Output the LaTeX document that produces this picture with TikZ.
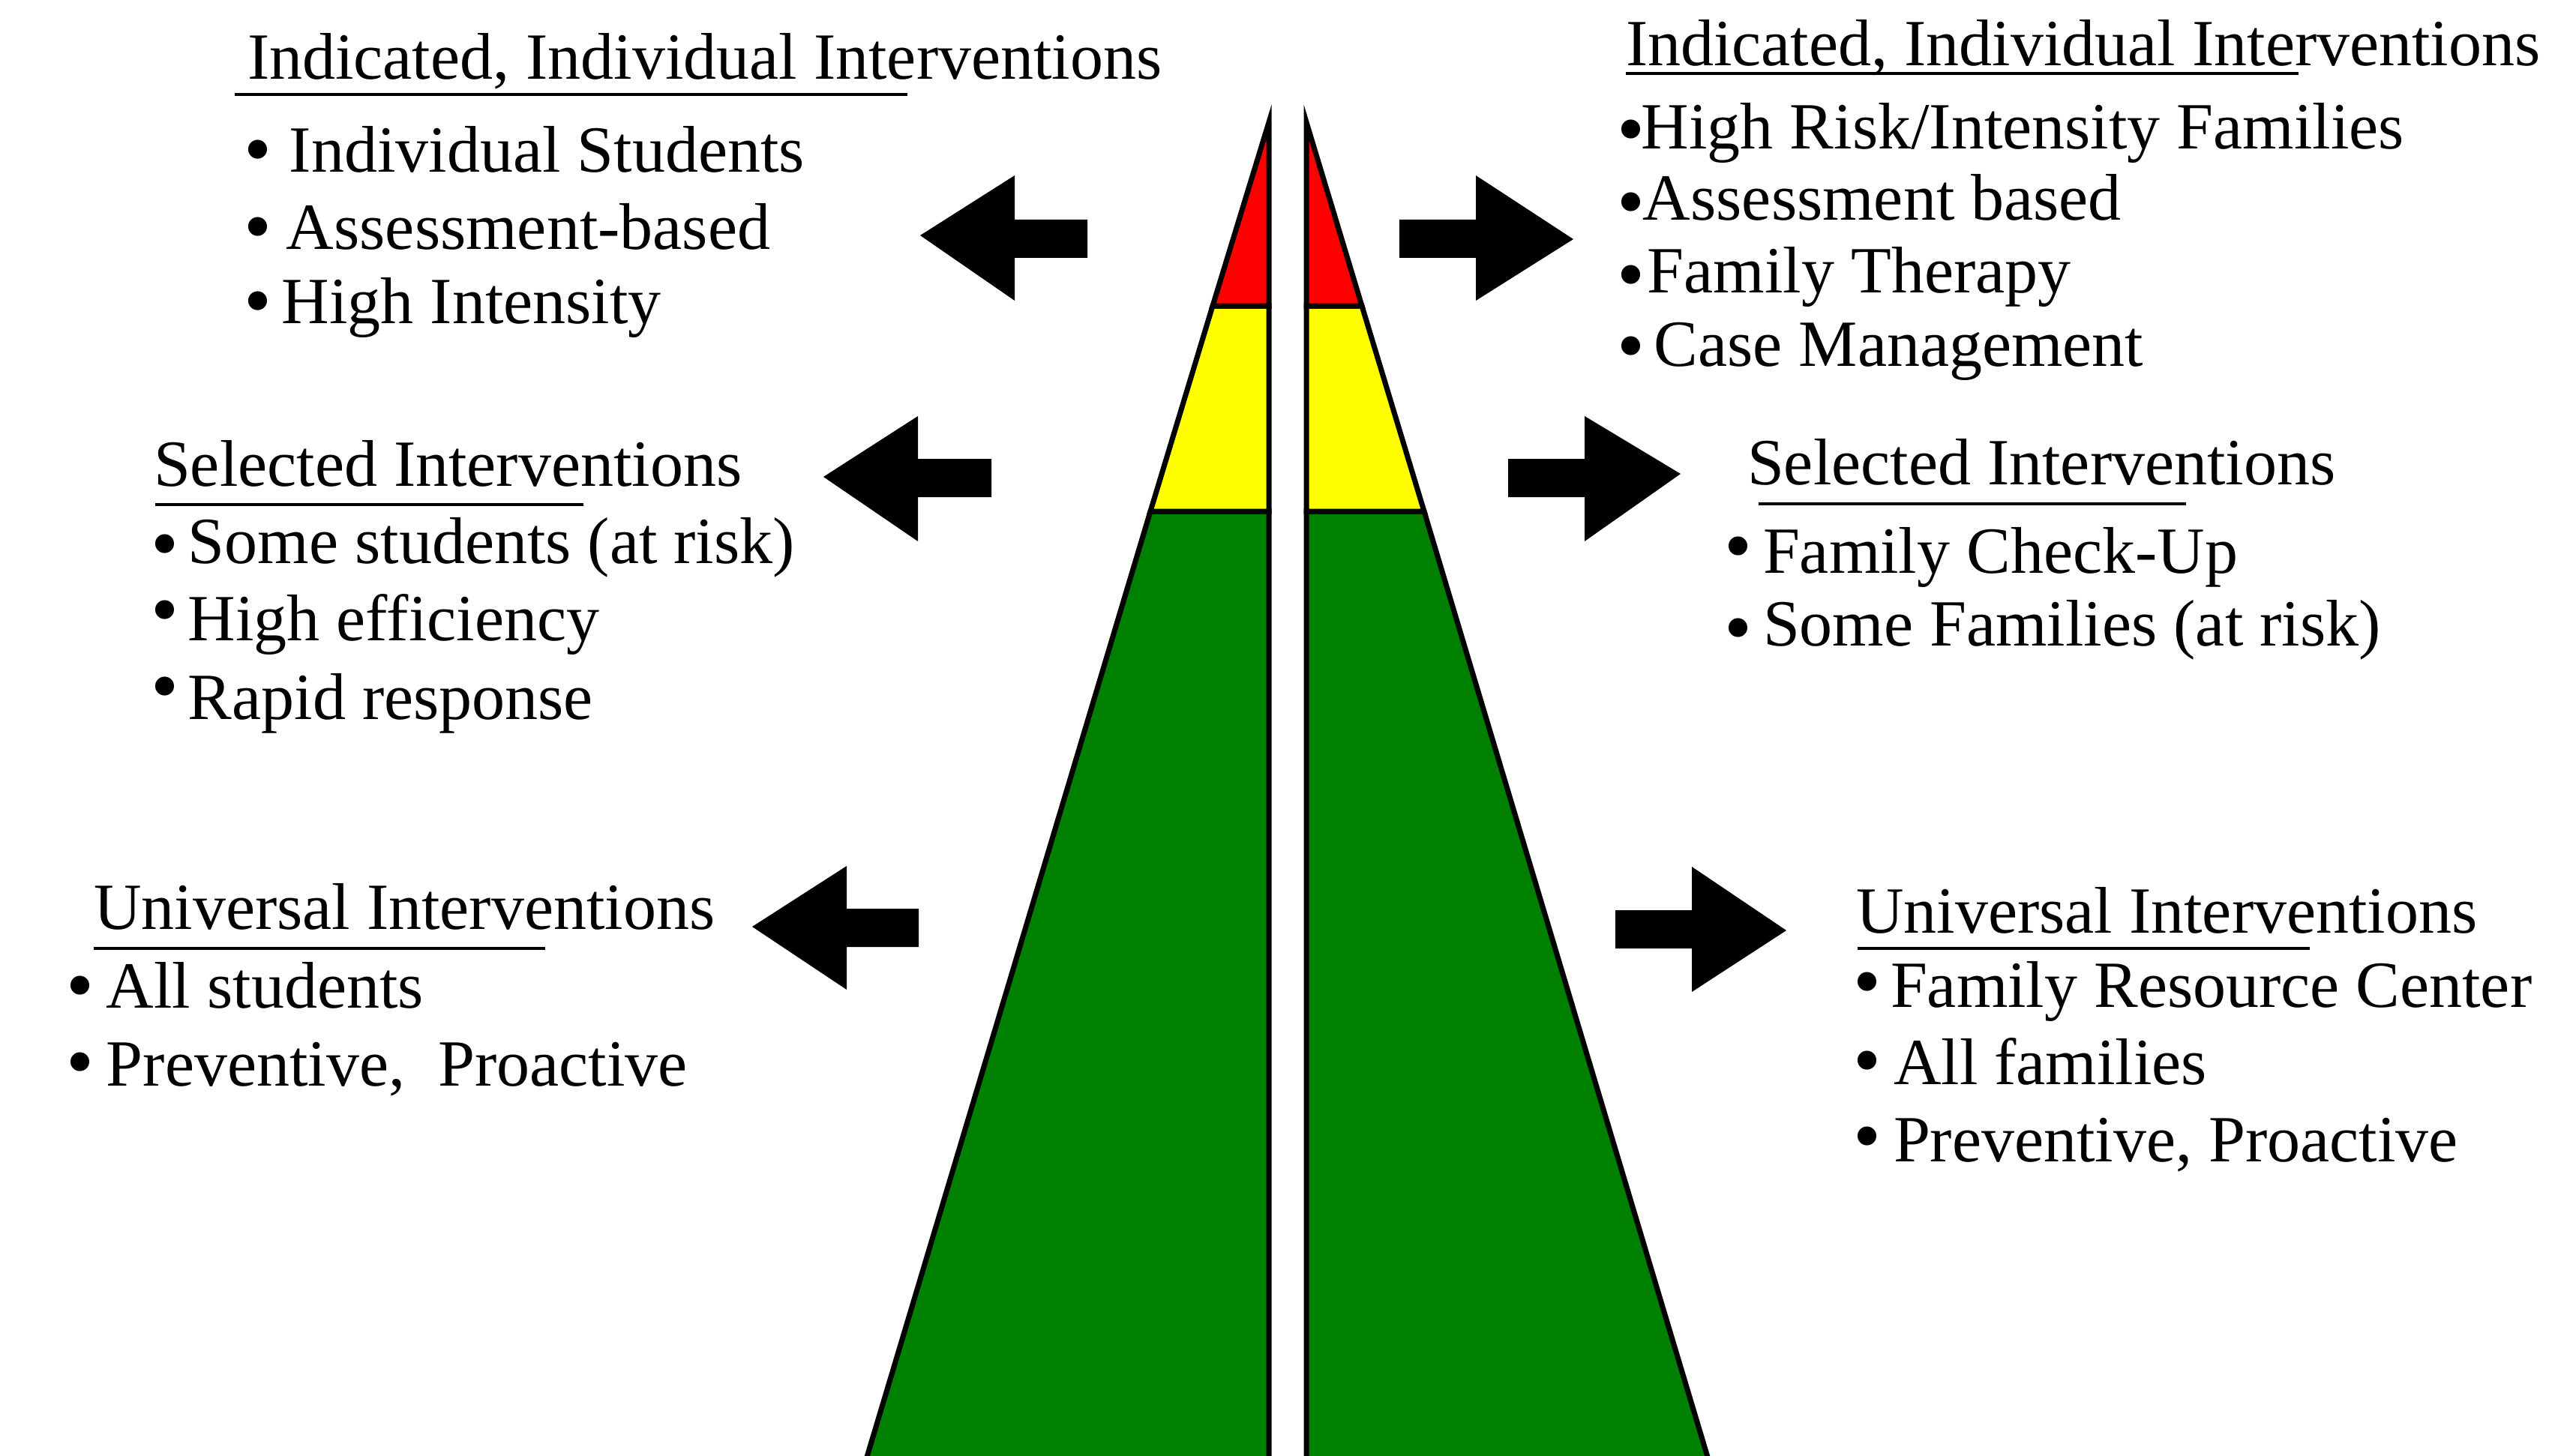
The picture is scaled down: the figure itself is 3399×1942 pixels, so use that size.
\documentclass[tikz,border=0pt]{standalone}
\usepackage{fontspec}
\setmainfont{Liberation Serif}
\definecolor{tierred}{HTML}{FF0000}
\definecolor{tieryellow}{HTML}{FFFF00}
\definecolor{tiergreen}{HTML}{008000}
\newcommand{\myblt}[3]{\raisebox{\dimexpr#1pt-5pt\relax}{\scalebox{1.2}{\textbullet}}\hspace*{\dimexpr#2pt-6pt\relax}#3}
\begin{document}
\begin{tikzpicture}[x=1pt,y=-1pt,
  txt/.style={anchor=base west, inner sep=0pt, outer sep=0pt, font=\fontsize{88}{100}\selectfont},
  tier/.style={draw=black, line width=7pt, line join=miter},
  ul/.style={draw=black, line width=4.5pt},
  blockarrow/.style={fill=black, draw=none}]
\useasboundingbox (0,0) rectangle (3399,1942);

% left pyramid half
\path[tier, fill=tiergreen] (1534,682) -- (1142,1990) -- (1692,1990) -- (1692,682) -- cycle;
\path[tier, fill=tieryellow] (1617,408) -- (1534,682) -- (1692,682) -- (1692,408) -- cycle;
\path[tier, fill=tierred] (1692,163) -- (1617,408) -- (1692,408) -- cycle;
% right pyramid half
\path[tier, fill=tiergreen] (1899,682) -- (2291,1990) -- (1742,1990) -- (1742,682) -- cycle;
\path[tier, fill=tieryellow] (1816,408) -- (1899,682) -- (1742,682) -- (1742,408) -- cycle;
\path[tier, fill=tierred] (1742,163) -- (1816,408) -- (1742,408) -- cycle;

% block arrows
\path[blockarrow] (1227,314) -- (1353,234) -- (1353,293) -- (1450,293) -- (1450,344) -- (1353,344) -- (1353,401) -- cycle;
\path[blockarrow] (1866,293) -- (1968,293) -- (1968,234) -- (2098,319) -- (1968,401) -- (1968,344) -- (1866,344) -- cycle;
\path[blockarrow] (1098,636) -- (1224,555) -- (1224,612) -- (1322,612) -- (1322,663) -- (1224,663) -- (1224,722) -- cycle;
\path[blockarrow] (2011,612) -- (2113,612) -- (2113,555) -- (2241,632) -- (2113,722) -- (2113,663) -- (2011,663) -- cycle;
\path[blockarrow] (1003,1236) -- (1129,1155) -- (1129,1212) -- (1225,1212) -- (1225,1263) -- (1129,1263) -- (1129,1320) -- cycle;
\path[blockarrow] (2154,1214) -- (2256,1214) -- (2256,1156) -- (2382,1241) -- (2256,1323) -- (2256,1265) -- (2154,1265) -- cycle;

% left top
\node[txt] (lt) at (330,106) {Indicated, Individual Interventions};
\path[ul] (313,126) -- (1210,126);
\node[txt] (lt1) at (325,230) {\myblt{0}{30}{Individual Students}};
\node[txt] (lt2) at (325,333) {\myblt{0}{26}{Assessment-based}};
\node[txt] (lt3) at (325,431) {\myblt{0}{20}{High Intensity}};

% left middle
\node[txt] (lm) at (205,648) {Selected Interventions};
\path[ul] (207,673) -- (778,673);
\node[txt] (lm1) at (201,751) {\myblt{-4}{19}{Some students (at risk)}};
\node[txt] (lm2) at (201,854) {\myblt{11}{19}{High efficiency}};
\node[txt] (lm3) at (201,959) {\myblt{14}{19}{Rapid response}};

% left bottom
\node[txt] (lb) at (125,1239) {Universal Interventions};
\path[ul] (125,1265) -- (727,1265);
\node[txt] (lb1) at (88,1344) {\myblt{0}{23}{All students}};
\node[txt] (lb2) at (88,1448) {\myblt{2}{23}{Preventive,\ \ Proactive}};

% right top
\node[txt] (rt) at (2168,88) {Indicated, Individual Interventions};
\path[ul] (2168,98) -- (3065,98);
\node[txt] (rt1) at (2156,199) {\myblt{-4}{2}{High Risk/Intensity Families}};
\node[txt] (rt2) at (2156,294) {\myblt{-6}{4}{Assessment based}};
\node[txt] (rt3) at (2156,391) {\myblt{-6}{10}{Family Therapy}};
\node[txt] (rt4) at (2156,488) {\myblt{-3}{19}{Case Management}};

% right middle
\node[txt] (rm) at (2330,646) {Selected Interventions};
\path[ul] (2345,672) -- (2915,672);
\node[txt] (rm1) at (2299,764) {\myblt{6}{21}{Family Check-Up}};
\node[txt] (rm2) at (2299,861) {\myblt{-6}{21}{Some Families (at risk)}};

% right bottom
\node[txt] (rb) at (2475,1244) {Universal Interventions};
\path[ul] (2477,1265) -- (3080,1265);
\node[txt] (rb1) at (2471,1343) {\myblt{4}{19}{Family Resource Center}};
\node[txt] (rb2) at (2471,1446) {\myblt{2}{23}{All families}};
\node[txt] (rb3) at (2471,1549) {\myblt{4}{23}{Preventive, Proactive}};
\end{tikzpicture}
\end{document}
